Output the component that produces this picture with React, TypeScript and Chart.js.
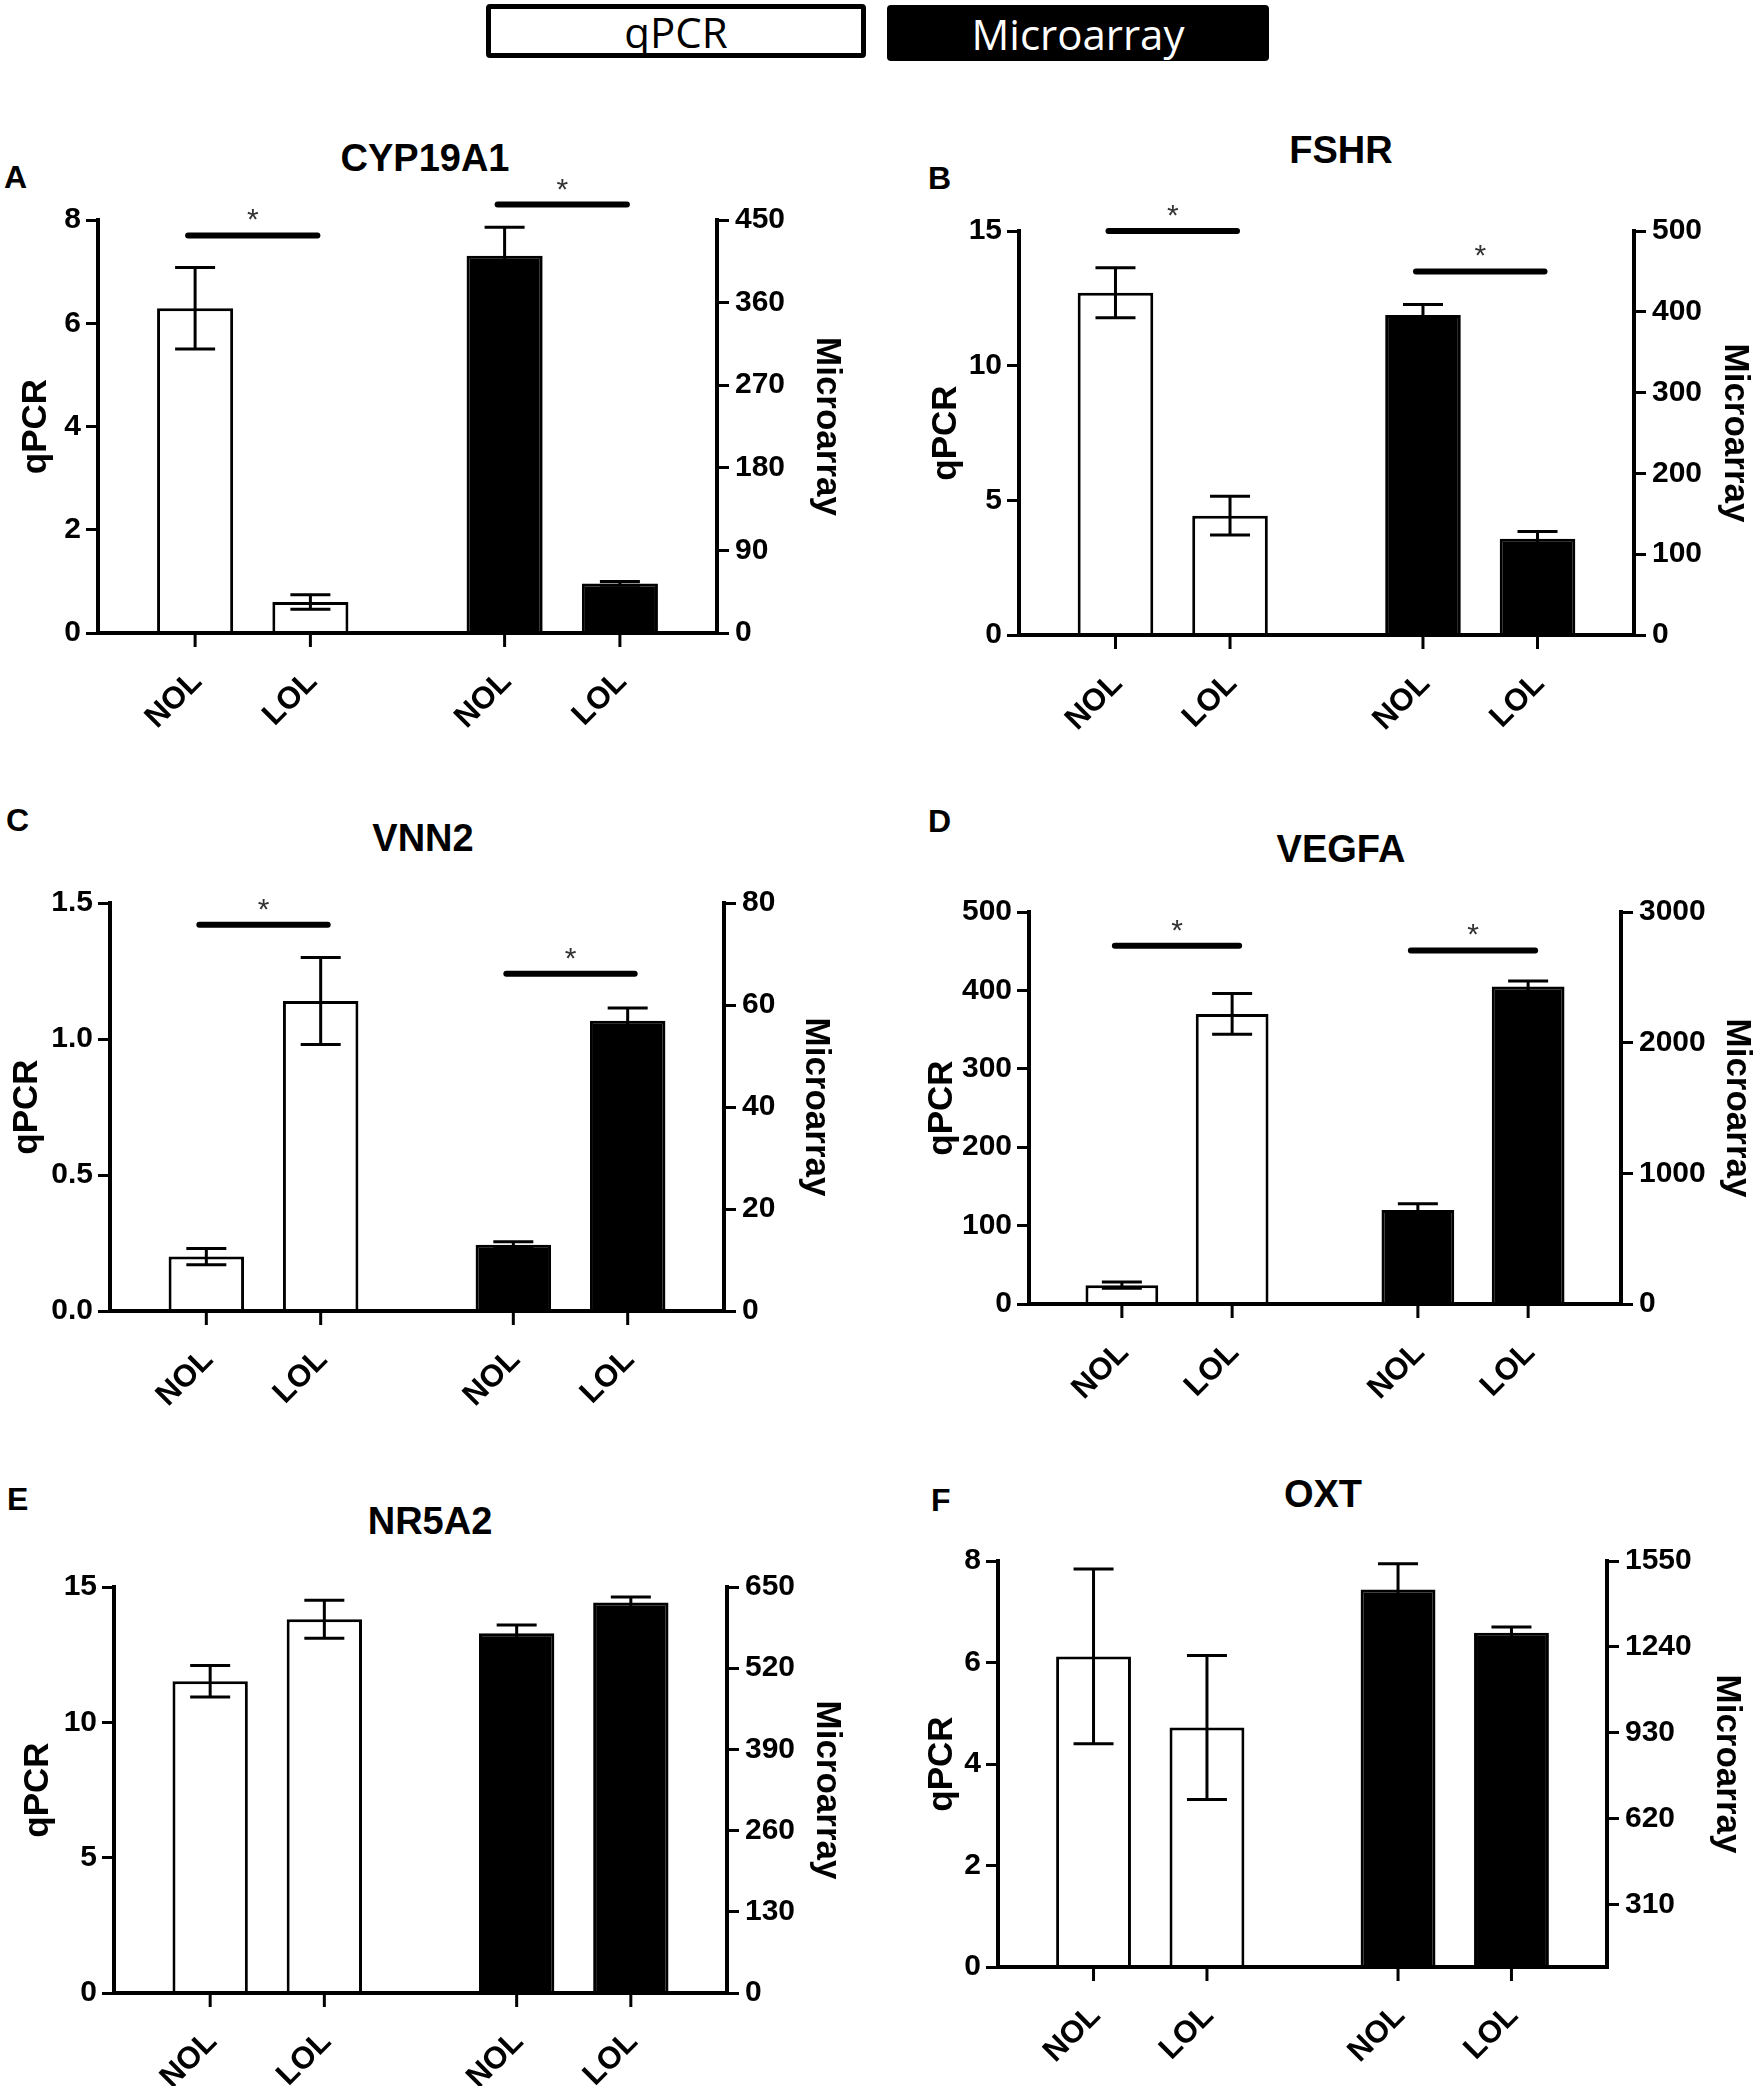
import { useEffect, useRef } from 'react';
import { Chart, registerables } from 'chart.js';

Chart.register(...registerables);

const FONT = "'Liberation Sans', Arial, sans-serif";

const genes = ['CYP19A1', 'FSHR', 'VNN2', 'VEGFA', 'NR5A2', 'OXT'];
const panelLetters = ['A', 'B', 'C', 'D', 'E', 'F'];
const groups = ['NOL', 'LOL'];
const methods = ['qPCR', 'Microarray'];

// qPCR (left axis): mean and error for NOL, LOL
const qpcrMeans = [
  [6.29, 0.6],
  [12.71, 4.43],
  [0.2, 1.14],
  [24, 370],
  [11.52, 13.81],
  [6.12, 4.72],
];
const qpcrErrors = [
  [0.79, 0.14],
  [0.93, 0.72],
  [0.03, 0.16],
  [4, 26],
  [0.58, 0.7],
  [1.72, 1.42],
];

// Microarray (right axis): mean and error for NOL, LOL
const arrayMeans = [
  [411, 54],
  [396, 119],
  [13.0, 56.9],
  [720, 2430],
  [576, 625],
  [1447, 1291],
];
const arrayErrors = [
  [31, 2],
  [13, 9],
  [0.6, 2.5],
  [47, 41],
  [13, 9],
  [93, 21],
];

const qpcrTicks = [
  [0, 2, 4, 6, 8],
  [0, 5, 10, 15],
  [0, 0.5, 1, 1.5],
  [0, 100, 200, 300, 400, 500],
  [0, 5, 10, 15],
  [0, 2, 4, 6, 8],
];
const arrayTicks = [
  [0, 90, 180, 270, 360, 450],
  [0, 100, 200, 300, 400, 500],
  [0, 20, 40, 60, 80],
  [0, 1000, 2000, 3000],
  [0, 130, 260, 390, 520, 650],
  [310, 620, 930, 1240, 1550],
];
const arrayMins = [0, 0, 0, 0, 0, 86];

// height of the "*" bars, in qPCR axis units: [qPCR pair, Microarray pair]
const sigBarHeights: (number | null)[][] = [
  [7.7, 8.3],
  [15.0, 13.5],
  [1.42, 1.24],
  [457, 451],
  [null, null],
  [null, null],
];

// page layout
const canvasBoxes = [
  { x: 0, y: 120, w: 880, h: 640 },
  { x: 880, y: 120, w: 879, h: 640 },
  { x: 0, y: 790, w: 880, h: 650 },
  { x: 880, y: 790, w: 879, h: 650 },
  { x: 0, y: 1466, w: 880, h: 620 },
  { x: 880, y: 1466, w: 879, h: 620 },
];
const plotEdges = [
  { left: 98, right: 717, top: 220, bottom: 633 },
  { left: 1019, right: 1634, top: 231, bottom: 635 },
  { left: 110, right: 724, top: 903, bottom: 1311 },
  { left: 1029, right: 1621, top: 912, bottom: 1304 },
  { left: 114, right: 727, top: 1587, bottom: 1993 },
  { left: 998, right: 1607, top: 1561, bottom: 1967 },
];
const axisTitleCenters = [
  { left: 36, right: 827 },
  { left: 946, right: 1735 },
  { left: 27, right: 816 },
  { left: 942, right: 1737 },
  { left: 38, right: 827 },
  { left: 942, right: 1727 },
];
const titlePositions = [
  { x: 425, y: 158 },
  { x: 1341, y: 150 },
  { x: 423, y: 838 },
  { x: 1341, y: 849 },
  { x: 430, y: 1521 },
  { x: 1323, y: 1494 },
];
const letterPositions = [
  { x: 4, y: 177 },
  { x: 928, y: 178 },
  { x: 6, y: 820 },
  { x: 928, y: 821 },
  { x: 7, y: 1499 },
  { x: 931, y: 1500 },
];

const panelExtras = {
  id: 'panelExtras',
  afterDatasetsDraw(chart: any, _args: any, opts: any) {
    const ctx: CanvasRenderingContext2D = chart.ctx;
    const i = opts.panel as number;
    const zeroY = chart.chartArea.bottom;
    ctx.save();
    ctx.strokeStyle = '#000';
    ctx.fillStyle = '#000';

    chart.data.datasets.forEach((ds: any, k: number) => {
      const meta = chart.getDatasetMeta(k);
      const yScale = chart.scales[ds.yAxisID];
      ds.data.forEach((v: number | null, j: number) => {
        if (v == null) return;
        const x = meta.data[j].x;
        const err = ds.errors[j];
        const yHi = yScale.getPixelForValue(v + err);
        const yLo = yScale.getPixelForValue(Math.max(v - err, yScale.min));
        const cap = 20;
        ctx.lineWidth = 3;
        ctx.lineCap = 'butt';
        ctx.beginPath();
        ctx.moveTo(x, yHi);
        ctx.lineTo(x, yLo);
        ctx.moveTo(x - cap, yHi);
        ctx.lineTo(x + cap, yHi);
        ctx.moveTo(x - cap, yLo);
        ctx.lineTo(x + cap, yLo);
        ctx.stroke();

        // category tick and rotated label
        ctx.beginPath();
        ctx.moveTo(x, zeroY);
        ctx.lineTo(x, zeroY + 14);
        ctx.stroke();
        ctx.save();
        ctx.translate(x + 2, zeroY + 44);
        ctx.rotate(-Math.PI / 4);
        ctx.font = `bold 31px ${FONT}`;
        ctx.textAlign = 'right';
        ctx.textBaseline = 'middle';
        ctx.fillText(groups[k % 2], 0, 0);
        ctx.restore();
      });
    });

    // significance bars
    sigBarHeights[i].forEach((level, m) => {
      if (level == null) return;
      const x0 = chart.getDatasetMeta(2 * m).data[m].x;
      const x1 = chart.getDatasetMeta(2 * m + 1).data[m].x;
      const cx = (x0 + x1) / 2;
      const half = (x1 - x0) / 2 + 7;
      const y = chart.scales.y.getPixelForValue(level);
      ctx.lineWidth = 6;
      ctx.lineCap = 'round';
      ctx.beginPath();
      ctx.moveTo(cx - half, y);
      ctx.lineTo(cx + half, y);
      ctx.stroke();
      ctx.font = `30px ${FONT}`;
      ctx.textAlign = 'center';
      ctx.textBaseline = 'alphabetic';
      ctx.fillStyle = '#333';
      ctx.fillText('*', cx, y - 6);
      ctx.fillStyle = '#000';
    });
    ctx.restore();
  },
};

function Panel({ index }: { index: number }) {
  const canvasRef = useRef<HTMLCanvasElement>(null);
  const chartRef = useRef<Chart | null>(null);
  const box = canvasBoxes[index];

  useEffect(() => {
    if (!canvasRef.current) return;
    if (chartRef.current) {
      chartRef.current.destroy();
    }
    const ctx = canvasRef.current.getContext('2d');
    if (!ctx) return;

    const edge = plotEdges[index];
    const titles = axisTitleCenters[index];
    const qTicks = qpcrTicks[index];
    const aTicks = arrayTicks[index];
    const qDecimals = qTicks.some((t) => !Number.isInteger(t)) ? 1 : 0;

    const barStyle = {
      borderColor: '#000',
      borderWidth: 3,
      borderSkipped: 'start',
      skipNull: true,
      categoryPercentage: 0.745,
      barPercentage: 0.66,
    };
    const datasets = [
      ...groups.map((g, j) => ({
        ...barStyle,
        label: `qPCR ${g}`,
        yAxisID: 'y',
        data: [qpcrMeans[index][j], null],
        errors: [qpcrErrors[index][j], null],
        backgroundColor: '#ffffff',
      })),
      ...groups.map((g, j) => ({
        ...barStyle,
        label: `Microarray ${g}`,
        yAxisID: 'y1',
        data: [null, arrayMeans[index][j]],
        errors: [null, arrayErrors[index][j]],
        backgroundColor: '#000000',
      })),
    ];

    const tickFont = { family: FONT, size: 30, weight: 'bold' as const };
    const titleFont = { family: FONT, size: 35, weight: 'bold' as const, lineHeight: 1.2 };
    const axisGrid = {
      drawOnChartArea: false,
      drawTicks: true,
      tickLength: 12,
      tickWidth: 3,
      tickColor: '#000',
      color: '#000',
      lineWidth: 3,
    };
    const axisBorder = { display: true, color: '#000', width: 4, z: 1 };

    chartRef.current = new Chart(ctx, {
      type: 'bar',
      data: { labels: methods, datasets: datasets as any },
      options: {
        responsive: false,
        animation: false,
        devicePixelRatio: 1,
        layout: { padding: { top: edge.top - box.y, left: 0, right: 0, bottom: 0 } },
        plugins: {
          legend: { display: false },
          tooltip: { enabled: false },
          panelExtras: { panel: index },
        } as any,
        scales: {
          x: {
            type: 'category',
            grid: { display: false },
            ticks: { display: false },
            border: axisBorder,
            afterFit: (s: any) => {
              s.height = box.y + box.h - edge.bottom;
            },
          },
          y: {
            type: 'linear',
            position: 'left',
            min: qTicks[0],
            max: qTicks[qTicks.length - 1],
            afterBuildTicks: (s: any) => {
              s.ticks = qTicks.map((v) => ({ value: v }));
            },
            ticks: {
              autoSkip: false,
              color: '#000',
              font: tickFont,
              padding: 5,
              callback: (v: any) => Number(v).toFixed(qDecimals),
            },
            grid: axisGrid,
            border: axisBorder,
            title: {
              display: true,
              text: 'qPCR',
              color: '#000',
              font: titleFont,
              padding: titles.left - box.x - 21,
            },
            afterFit: (s: any) => {
              s.width = edge.left - box.x;
            },
          },
          y1: {
            type: 'linear',
            position: 'right',
            min: arrayMins[index],
            max: aTicks[aTicks.length - 1],
            afterBuildTicks: (s: any) => {
              s.ticks = aTicks.map((v) => ({ value: v }));
            },
            ticks: {
              autoSkip: false,
              color: '#000',
              font: tickFont,
              padding: 6,
              callback: (v: any) => String(v),
            },
            grid: axisGrid,
            border: axisBorder,
            title: {
              display: true,
              text: 'Microarray',
              color: '#000',
              font: titleFont,
              padding: box.x + box.w - titles.right - 21,
            },
            afterFit: (s: any) => {
              s.width = box.x + box.w - edge.right;
            },
          },
        },
      } as any,
      plugins: [panelExtras as any],
    });

    return () => {
      if (chartRef.current) {
        chartRef.current.destroy();
        chartRef.current = null;
      }
    };
  }, [index]);

  return (
    <div style={{ position: 'absolute', left: box.x, top: box.y, width: box.w, height: box.h }}>
      <canvas ref={canvasRef} width={box.w} height={box.h} />
    </div>
  );
}

const legendBase = {
  position: 'absolute' as const,
  boxSizing: 'border-box' as const,
  display: 'flex',
  alignItems: 'center',
  justifyContent: 'center',
  fontFamily: "'Open Sans', sans-serif",
  fontSize: 42,
  borderRadius: 4,
};

export default function App() {
  return (
    <div
      style={{
        position: 'absolute',
        left: 0,
        top: 0,
        width: 1759,
        height: 2086,
        background: '#fff',
        fontFamily: FONT,
        color: '#000',
      }}
    >
      <div style={{ ...legendBase, left: 486, top: 4, width: 380, height: 54, border: '5px solid #000', background: '#fff' }}>
        {methods[0]}
      </div>
      <div style={{ ...legendBase, left: 887, top: 5, width: 382, height: 56, background: '#000', color: '#fff' }}>
        {methods[1]}
      </div>
      {genes.map((g, i) => (
        <div key={g}>
          <div
            style={{
              position: 'absolute',
              left: letterPositions[i].x,
              top: letterPositions[i].y,
              transform: 'translateY(-50%)',
              fontWeight: 'bold',
              fontSize: 32,
              lineHeight: 1,
            }}
          >
            {panelLetters[i]}
          </div>
          <div
            style={{
              position: 'absolute',
              left: titlePositions[i].x,
              top: titlePositions[i].y,
              transform: 'translate(-50%, -50%)',
              fontWeight: 'bold',
              fontSize: 38,
              lineHeight: 1,
              whiteSpace: 'nowrap',
            }}
          >
            {g}
          </div>
          <Panel index={i} />
        </div>
      ))}
    </div>
  );
}
